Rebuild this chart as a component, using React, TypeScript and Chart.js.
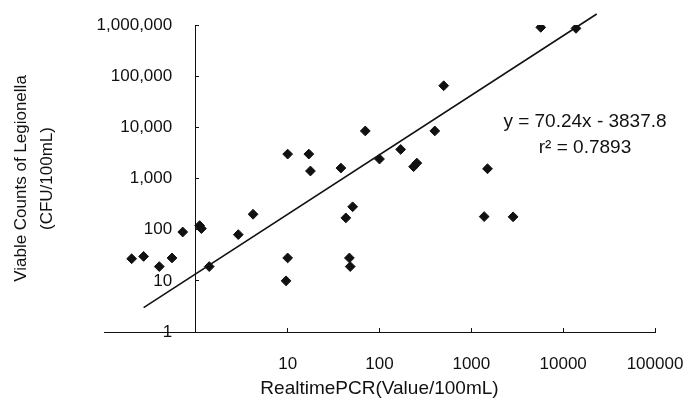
import React, { useEffect, useRef } from 'react';
import { Chart, registerables } from 'chart.js';

Chart.register(...registerables);

// Realtime PCR value (per 100 mL)
const pcrValues = [
  0.2, 0.27, 0.4, 0.55, 0.72, 1.1, 1.15, 1.4, 2.9, 4.2,
  10, 9.6, 10, 17, 17.7, 38, 70, 100, 170, 235,
  255, 400, 500, 1500, 5700, 13800, 43, 51, 47, 48,
  1380, 2850,
];
// Viable counts of Legionella (CFU/100 mL)
const viableCounts = [
  27, 30, 19, 28, 90, 120, 105, 19, 80, 200,
  28, 10, 3000, 3000, 1400, 1600, 8500, 2400, 3700, 1700,
  2000, 8500, 65000, 1550, 900000, 860000, 170, 280, 28, 19,
  180, 178,
];

// Regression line end points (drawn straight on log–log axes)
const trendX = [0.27, 23200];
const trendY = [3, 1640000];

const xTickValues = [10, 100, 1000, 10000, 100000];
const yTickValues = [1, 10, 100, 1000, 10000, 100000, 1000000];

const xTitle = 'RealtimePCR(Value/100mL)';
const yTitle = ['Viable Counts of Legionella', '(CFU/100mL)'];
const equationLines = ['y = 70.24x - 3837.8', 'r\u00B2 = 0.7893'];

const FONT = '"Liberation Sans", Arial, sans-serif';
const INK = '#111111';

const equationPlugin = {
  id: 'equationText',
  afterDatasetsDraw(chart: any) {
    const { ctx, chartArea } = chart;
    ctx.save();
    ctx.font = `19px ${FONT}`;
    ctx.fillStyle = INK;
    ctx.textAlign = 'center';
    ctx.textBaseline = 'middle';
    const cx = chartArea.right - 70;
    ctx.fillText(equationLines[0], cx, chartArea.top + 97);
    ctx.fillText(equationLines[1], cx, chartArea.top + 123);
    ctx.restore();
  },
};

export default function App() {
  const canvasRef = useRef<HTMLCanvasElement | null>(null);

  useEffect(() => {
    if (!canvasRef.current) return;
    Chart.defaults.font.family = FONT;
    const tickFont = { family: FONT, size: 17 };

    const chart = new Chart(canvasRef.current, {
      type: 'scatter',
      data: {
        datasets: [
          {
            label: 'trend',
            data: trendX.map((x, i) => ({ x, y: trendY[i] })),
            showLine: true,
            borderColor: INK,
            borderWidth: 1.6,
            pointRadius: 0,
            clip: false,
          } as any,
          {
            label: 'samples',
            data: pcrValues.map((x, i) => ({ x, y: viableCounts[i] })),
            pointStyle: 'rectRot',
            pointRadius: 4.9,
            backgroundColor: INK,
            borderColor: INK,
            borderWidth: 1,
          } as any,
        ],
      },
      options: {
        animation: false,
        responsive: false,
        devicePixelRatio: 1,
        layout: { padding: { left: 0, right: 28, top: 25, bottom: 0 } },
        plugins: {
          legend: { display: false },
          tooltip: { enabled: false },
        },
        scales: {
          x: {
            type: 'logarithmic',
            min: 0.1,
            max: 100000,
            position: 'bottom',
            afterBuildTicks: (s: any) => {
              s.ticks = xTickValues.map((v) => ({ value: v }));
            },
            afterFit: (s: any) => {
              s.height = 68;
              s.paddingLeft = 0;
              s.paddingRight = 0;
            },
            ticks: {
              callback: (v: any) => String(v),
              font: tickFont,
              color: INK,
              padding: 26,
              maxRotation: 0,
              autoSkip: false,
            },
            grid: { display: true, drawOnChartArea: false, tickLength: -4, color: INK },
            border: { display: true, color: INK, width: 1 },
            title: {
              display: true,
              text: xTitle,
              font: { family: FONT, size: 19 },
              color: INK,
              padding: { top: 0, bottom: 0 },
            },
          },
          y: {
            type: 'logarithmic',
            min: 1,
            max: 1000000,
            position: { x: 1 } as any,
            afterBuildTicks: (s: any) => {
              s.ticks = yTickValues.map((v) => ({ value: v }));
            },
            ticks: {
              callback: (v: any) => Number(v).toLocaleString('en-US') + '     ',
              font: tickFont,
              color: INK,
              padding: 4,
              autoSkip: false,
            },
            grid: { display: true, drawOnChartArea: false, tickLength: -4, color: INK },
            border: { display: true, color: INK, width: 1 },
            title: { display: false },
          },
          yTitle: {
            type: 'logarithmic',
            min: 1,
            max: 1000000,
            position: 'left',
            afterFit: (s: any) => {
              s.width = 104;
            },
            ticks: { display: false },
            grid: { display: false },
            border: { display: false },
            title: {
              display: true,
              text: yTitle,
              font: { family: FONT, size: 17, lineHeight: 1.53 },
              color: INK,
              padding: { top: 8, bottom: 0 },
            },
          },
        } as any,
      },
      plugins: [equationPlugin],
    });

    return () => chart.destroy();
  }, []);

  return (
    <div style={{ position: 'absolute', left: 0, top: 0, width: 683, height: 400, background: '#fff' }}>
      <canvas ref={canvasRef} width={683} height={400} style={{ display: 'block' }} />
    </div>
  );
}
